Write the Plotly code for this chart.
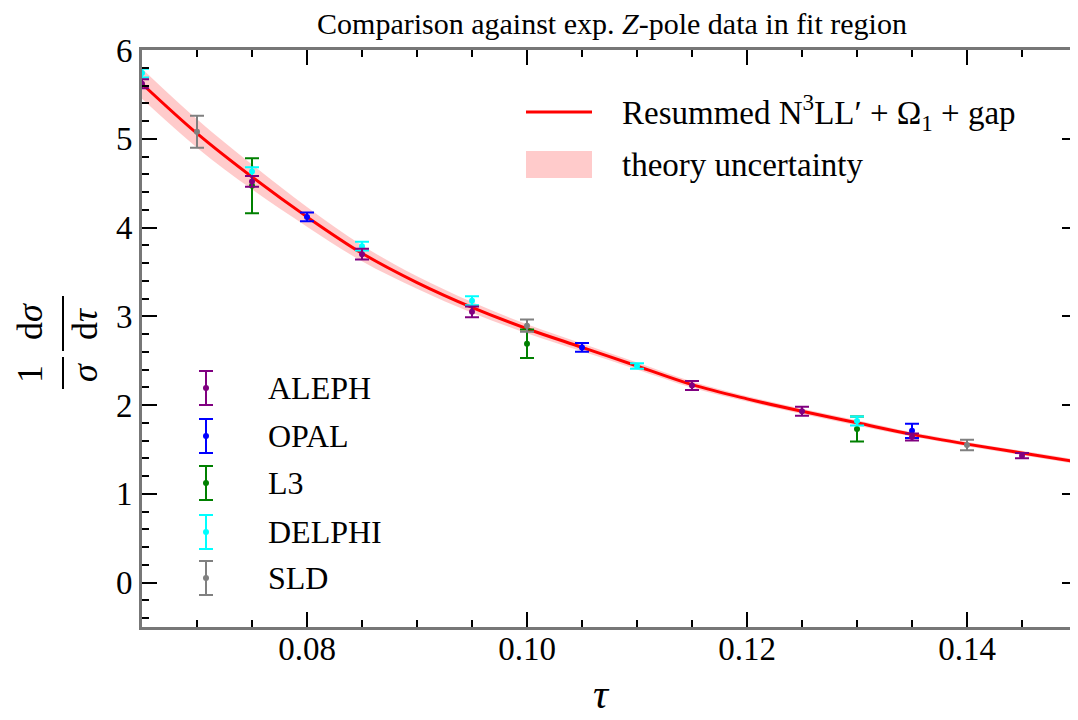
import plotly.graph_objects as go

# ---------------- data ----------------
tau_theory = [0.065, 0.070, 0.075, 0.080, 0.085, 0.090, 0.095, 0.100, 0.105,
              0.110, 0.115, 0.120, 0.125, 0.130, 0.135, 0.140, 0.145, 0.150]
theory_val = [5.62, 5.06, 4.57, 4.12, 3.71, 3.38, 3.10, 2.86, 2.65,
              2.44, 2.23, 2.07, 1.93, 1.80, 1.67, 1.56, 1.46, 1.36]
theory_err = [0.17, 0.16, 0.14, 0.11, 0.09, 0.07, 0.06, 0.05, 0.045,
              0.04, 0.035, 0.03, 0.03, 0.03, 0.025, 0.025, 0.025, 0.025]

aleph_tau = [0.065, 0.075, 0.085, 0.095, 0.115, 0.125, 0.135, 0.145]
aleph_val = [5.62, 4.52, 3.70, 3.05, 2.22, 1.93, 1.64, 1.43]
aleph_err = [0.05, 0.06, 0.06, 0.06, 0.05, 0.05, 0.04, 0.03]

opal_tau = [0.080, 0.105, 0.135]
opal_val = [4.12, 2.65, 1.71]
opal_err = [0.05, 0.05, 0.08]

l3_tau = [0.075, 0.100, 0.130]
l3_val = [4.47, 2.69, 1.73]
l3_err = [0.31, 0.16, 0.14]

delphi_tau = [0.065, 0.075, 0.085, 0.095, 0.110, 0.130, 0.150]
delphi_val = [5.74, 4.63, 3.79, 3.175, 2.44, 1.82, 1.39]
delphi_err = [0.05, 0.05, 0.05, 0.05, 0.03, 0.05, 0.03]

sld_tau = [0.070, 0.100, 0.140]
sld_val = [5.08, 2.895, 1.55]
sld_err = [0.18, 0.07, 0.06]

experiments = ["ALEPH", "OPAL", "L3", "DELPHI", "SLD"]
exp_colors = {"ALEPH": "#800080", "OPAL": "#0000FF", "L3": "#008000",
              "DELPHI": "#00FFFF", "SLD": "#808080"}
exp_data = {"ALEPH": (aleph_tau, aleph_val, aleph_err),
            "OPAL": (opal_tau, opal_val, opal_err),
            "L3": (l3_tau, l3_val, l3_err),
            "DELPHI": (delphi_tau, delphi_val, delphi_err),
            "SLD": (sld_tau, sld_val, sld_err)}
draw_order = ["L3", "SLD", "OPAL", "DELPHI", "ALEPH"]

title_text = "Comparison against exp. <i>Z</i>-pole data in fit region"
theory_label = "Resummed N<sup>3</sup>LL′ + Ω<sub>1</sub> + gap"
band_label = "theory uncertainty"

# ---------------- layout geometry ----------------
# the page body has an 8px margin, so figure pixels = page pixels - 8
OFF = 8
W, H = 1070, 712
L, R, T, B = 134, 1, 42, 93
PW, PH = W - L - R, H - T - B
FONT = "Liberation Serif, Times New Roman, Times, serif"
BAND = "rgba(255,160,160,0.55)"


def px(xpage):
    return (xpage - OFF - L) / PW


def py(ypage):
    return (H - B - (ypage - OFF)) / PH


fig = go.Figure()

upper = [v + e for v, e in zip(theory_val, theory_err)]
lower = [v - e for v, e in zip(theory_val, theory_err)]
fig.add_trace(go.Scatter(x=tau_theory, y=lower, mode="lines", line=dict(width=0, shape="spline"),
                         showlegend=False, hoverinfo="skip"))
fig.add_trace(go.Scatter(x=tau_theory, y=upper, mode="lines", line=dict(width=0, shape="spline"),
                         fill="tonexty", fillcolor=BAND,
                         showlegend=False, hoverinfo="skip"))
fig.add_trace(go.Scatter(x=tau_theory, y=theory_val, mode="lines",
                         line=dict(color="#FF0000", width=3, shape="spline"),
                         showlegend=False))

for name in draw_order:
    t, v, e = exp_data[name]
    c = exp_colors[name]
    fig.add_trace(go.Scatter(x=t, y=v, mode="markers", name=name,
                             marker=dict(color=c, size=6),
                             error_y=dict(type="data", array=e, color=c, thickness=2, width=7),
                             showlegend=False))

shapes = []
annotations = []

# top-right legend
shapes.append(dict(type="line", xref="paper", yref="paper", x0=px(526), x1=px(592),
                   y0=py(112), y1=py(112), line=dict(color="#FF0000", width=3)))
shapes.append(dict(type="rect", xref="paper", yref="paper", x0=px(526), x1=px(592),
                   y0=py(151), y1=py(178), line=dict(width=0), fillcolor=BAND))
annotations.append(dict(x=px(620), y=py(113), xref="paper", yref="paper", text=theory_label,
                        showarrow=False, font=dict(family=FONT, size=33, color="black"),
                        xanchor="left", yanchor="middle"))
annotations.append(dict(x=px(620), y=py(165), xref="paper", yref="paper", text=band_label,
                        showarrow=False, font=dict(family=FONT, size=33, color="black"),
                        xanchor="left", yanchor="middle"))

# bottom-left legend (error-bar glyphs)
row_y = [388, 436, 483, 532, 578]
sx = 206
for name, yy in zip(experiments, row_y):
    c = exp_colors[name]
    shapes.append(dict(type="line", xref="paper", yref="paper", x0=px(sx), x1=px(sx),
                       y0=py(yy - 17), y1=py(yy + 17), line=dict(color=c, width=2)))
    for cy in (yy - 17, yy + 17):
        shapes.append(dict(type="line", xref="paper", yref="paper", x0=px(sx - 7), x1=px(sx + 7),
                           y0=py(cy), y1=py(cy), line=dict(color=c, width=2)))
    shapes.append(dict(type="circle", xref="paper", yref="paper", x0=px(sx - 3), x1=px(sx + 3),
                       y0=py(yy - 3), y1=py(yy + 3), line=dict(width=0), fillcolor=c))
    annotations.append(dict(x=px(266), y=py(yy), xref="paper", yref="paper", text=name,
                            showarrow=False, font=dict(family=FONT, size=32, color="black"),
                            xanchor="left", yanchor="middle"))

# y-axis label: (1/σ)(dσ/dτ), rotated
for txt, xx, yy in [("1", 30, 374), ("<i>σ</i>", 85, 373), ("d<i>σ</i>", 30, 322), ("d<i>τ</i>", 85, 324)]:
    annotations.append(dict(x=px(xx), y=py(yy), xref="paper", yref="paper", text=txt,
                            showarrow=False, textangle=-90,
                            font=dict(family=FONT, size=36, color="black"),
                            xanchor="center", yanchor="middle"))
shapes.append(dict(type="line", xref="paper", yref="paper", x0=px(63), x1=px(63),
                   y0=py(296), y1=py(351), line=dict(color="black", width=2)))
shapes.append(dict(type="line", xref="paper", yref="paper", x0=px(63), x1=px(63),
                   y0=py(357), y1=py(389), line=dict(color="black", width=2)))

# x-axis label
annotations.append(dict(x=px(601), y=py(694), xref="paper", yref="paper", text="<i>τ</i>",
                        showarrow=False, font=dict(family=FONT, size=42, color="black"),
                        xanchor="center", yanchor="middle"))

axis_common = dict(showgrid=False, zeroline=False, showline=True, linecolor="#777777",
                   linewidth=3, mirror="allticks", ticks="inside", tickcolor="black",
                   tickwidth=2, ticklen=15,
                   tickfont=dict(family=FONT, size=33, color="black"))

fig.update_xaxes(range=[0.065, 0.15], tick0=0, dtick=0.02, tickformat=".2f",
                 ticklabelstandoff=-10,
                 minor=dict(dtick=0.005, ticks="inside", ticklen=7, tickwidth=2, tickcolor="black"),
                 **axis_common)
fig.update_yaxes(range=[-0.5, 6], tick0=0, dtick=1,
                 minor=dict(dtick=0.2, ticks="inside", ticklen=7, tickwidth=2, tickcolor="black"),
                 **axis_common)

fig.update_layout(width=W, height=H, margin=dict(l=L, r=R, t=T, b=B, autoexpand=False),
                  plot_bgcolor="white", paper_bgcolor="white",
                  font=dict(family=FONT),
                  title=dict(text=title_text, x=px(612), xref="paper", xanchor="center",
                             y=1 - (23 - OFF) / H, yref="container", yanchor="middle",
                             font=dict(family=FONT, size=30, color="black")),
                  shapes=shapes, annotations=annotations, showlegend=False)

fig.write_html("out.html")
